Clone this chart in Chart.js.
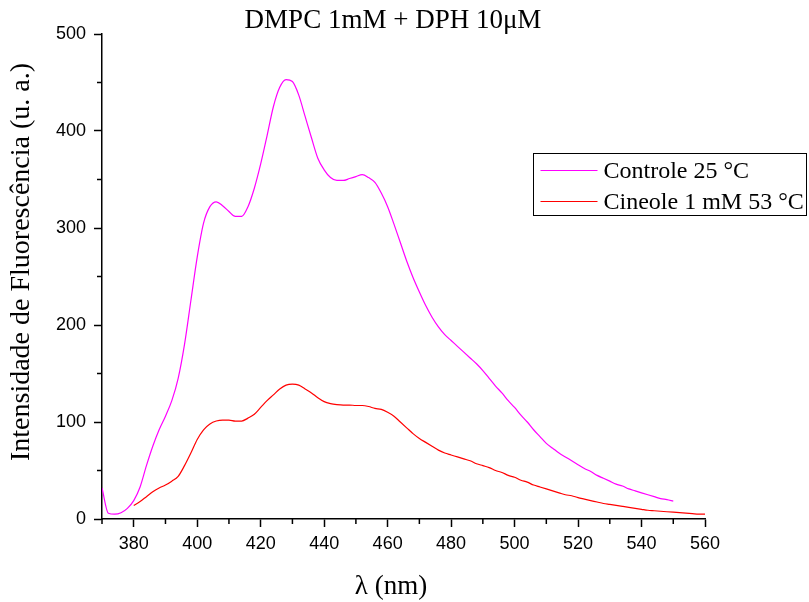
<!DOCTYPE html>
<html>
<head>
<meta charset="utf-8">
<script src="https://cdn.jsdelivr.net/npm/chart.js@4.4.1/dist/chart.umd.min.js"></script>
<style>
body { margin: 0; background: #fff; }
</style>
</head>
<body>
<canvas id="myChart" width="809" height="602"></canvas>
<script>
var titulo = 'DMPC 1mM + DPH 10\u03bcM';
var rotuloX = '\u03bb (nm)';
var rotuloY = 'Intensidade de Fluoresc\u00eancia (u. a.)';
var nomes = ['Controle 25 \u00b0C', 'Cineole 1 mM 53 \u00b0C'];

// controle 25 C
var controleNm = [370, 372, 374, 376, 378, 380, 382, 384, 386, 388, 390, 392, 394, 396, 398,
	400, 402, 404, 406, 408, 410, 412, 414, 416, 418, 420, 422, 424, 426, 428, 430, 432, 434,
	436, 438, 440, 442, 444, 446, 448, 450, 452, 454, 456, 458, 460, 462, 464, 466, 468, 470,
	472, 474, 476, 478, 480, 482, 484, 486, 488, 490, 492, 494, 496, 498, 500, 502, 504, 506,
	508, 510, 512, 514, 516, 518, 520, 522, 524, 526, 528, 530, 532, 534, 536, 538, 540, 542,
	544, 546, 548, 550];
var controleInt = [32, 6, 5, 6.5, 11, 19, 33, 55, 75, 92, 106, 122, 145, 180, 225,
	270, 305, 322, 327, 323, 317, 312, 312, 322, 341, 366, 395, 425, 445, 453, 451, 437, 415,
	393, 372, 360, 352, 349, 349, 351, 353, 355, 352, 347, 336, 322, 304, 285, 266, 249, 234,
	220, 208, 198, 190, 184, 178, 172, 166, 160, 153, 145, 137, 130, 122, 115, 107, 100, 92,
	85, 78, 73, 68, 64, 60, 56, 52, 49, 45, 42, 39, 36, 34, 31, 29, 27, 25,
	23, 21, 20, 18.5];

// cineole 1 mM 53 C
var cineoleNm = [380, 382, 384, 386, 388, 390, 392, 394, 396, 398, 400, 402, 404, 406, 408,
	410, 412, 414, 416, 418, 420, 422, 424, 426, 428, 430, 432, 434, 436, 438, 440, 442, 444,
	446, 448, 450, 452, 454, 456, 458, 460, 462, 464, 466, 468, 470, 472, 474, 476, 478, 480,
	482, 484, 486, 488, 490, 492, 494, 496, 498, 500, 502, 504, 506, 508, 510, 512, 514, 516,
	518, 520, 522, 524, 526, 528, 530, 532, 534, 536, 538, 540, 542, 544, 546, 548, 550, 552,
	554, 556, 558, 560];
var cineoleInt = [14, 18, 23, 28, 32, 35, 39, 44, 55, 68, 82, 92, 98, 101, 102,
	102, 101, 101, 104, 108, 115, 122, 128, 134, 138, 139, 138, 134, 130, 125, 121, 119, 118,
	117.5, 117.5, 117, 117, 116, 114, 113, 110, 106, 100, 94, 88, 83, 79, 75, 71, 68, 66,
	64, 62, 60, 57, 55, 53, 50, 48, 45, 43, 40, 38, 35, 33, 31, 29, 27, 25,
	24, 22, 20.5, 19, 17.5, 16, 15, 14, 13, 12, 11, 10, 9, 8.5, 8, 7.5, 7, 6.5,
	6, 5.5, 5, 5];

var cores = ['#ff00ff', '#ff0000'];

function pontos(nm, val) {
	var out = [];
	for (var i = 0; i < nm.length; i++) out.push({ x: nm[i], y: val[i] });
	return out;
}

var serif = 'Liberation Serif';
var sans = 'Liberation Sans';

// minor ticks, titles and the legend box
var extras = {
	id: 'extras',
	afterDraw: function(chart) {
		var ctx = chart.ctx;
		var xs = chart.scales.x, ys = chart.scales.y;
		ctx.save();
		ctx.strokeStyle = '#000';
		ctx.lineWidth = 1.5;
		ctx.beginPath();
		for (var v = 370; v < 560; v += 20) {
			var px = xs.getPixelForValue(v);
			ctx.moveTo(px, xs.top);
			ctx.lineTo(px, xs.top + 5);
		}
		for (var w = 50; w < 500; w += 100) {
			var py = ys.getPixelForValue(w);
			ctx.moveTo(ys.right - 5, py);
			ctx.lineTo(ys.right, py);
		}
		ctx.stroke();

		// titles
		ctx.fillStyle = '#000';
		ctx.textAlign = 'center';
		ctx.textBaseline = 'middle';
		ctx.font = '27px "' + serif + '"';
		ctx.fillText(titulo, 393, 21);
		ctx.font = '27px "' + serif + '"';
		ctx.fillText(rotuloX, 391, 587);
		ctx.font = '28px "' + serif + '"';
		ctx.save();
		ctx.translate(22, 262);
		ctx.rotate(-Math.PI / 2);
		ctx.fillText(rotuloY, 0, 0);
		ctx.restore();

		// legend
		var bx = 533.5, by = 153.5, bw = 273, bh = 62;
		ctx.lineWidth = 1;
		ctx.strokeStyle = '#000';
		ctx.strokeRect(bx, by, bw, bh);
		ctx.font = '24px "' + serif + '"';
		ctx.textAlign = 'left';
		chart.data.datasets.forEach(function(ds, i) {
			var ly = by + 17 + i * 31;
			ctx.strokeStyle = ds.borderColor;
			ctx.lineWidth = 1.2;
			ctx.beginPath();
			ctx.moveTo(bx + 7, ly);
			ctx.lineTo(bx + 64, ly);
			ctx.stroke();
			ctx.fillText(ds.label, bx + 70, ly + 1);
		});
		ctx.restore();
	}
};

var ctx = document.getElementById('myChart').getContext('2d');

var myChart = new Chart(ctx, {
	type: 'line',
	data: {
		datasets: [{
			label: nomes[0],
			data: pontos(controleNm, controleInt),
			borderColor: cores[0],
			borderWidth: 1.2,
			pointRadius: 0,
			cubicInterpolationMode: 'monotone',
			fill: false
		}, {
			label: nomes[1],
			data: pontos(cineoleNm, cineoleInt),
			borderColor: cores[1],
			borderWidth: 1.2,
			pointRadius: 0,
			cubicInterpolationMode: 'monotone',
			fill: false
		}]
	},
	options: {
		responsive: false,
		animation: false,
		layout: { padding: { left: 0, right: 104, top: 34, bottom: 0 } },
		plugins: {
			legend: { display: false },
			tooltip: { enabled: false },
			title: { display: false }
		},
		scales: {
			x: {
				type: 'linear',
				min: 370,
				max: 560,
				afterFit: function(scale) { scale.height = 83; },
				border: { display: true, color: '#000', width: 1.5 },
				grid: {
					drawOnChartArea: false,
					tickLength: 8,
					tickWidth: 1.5,
					tickColor: function(c) {
						return (c.tick && c.tick.value % 20 === 0) ? '#000' : 'rgba(0,0,0,0)';
					}
				},
				ticks: {
					stepSize: 10,
					autoSkip: false,
					color: '#000',
					padding: 6,
					maxRotation: 0,
					font: { family: sans, size: 18 },
					callback: function(v) { return v % 20 === 0 ? v : ''; }
				}
			},
			y: {
				min: 0,
				max: 500,
				afterFit: function(scale) { scale.width = 102; },
				border: { display: true, color: '#000', width: 1.5 },
				grid: {
					drawOnChartArea: false,
					tickLength: 8,
					tickWidth: 1.5,
					tickColor: '#000'
				},
				ticks: {
					stepSize: 100,
					color: '#000',
					padding: 8,
					font: { family: sans, size: 18 }
				}
			}
		}
	},
	plugins: [extras]
});
</script>
</body>
</html>
